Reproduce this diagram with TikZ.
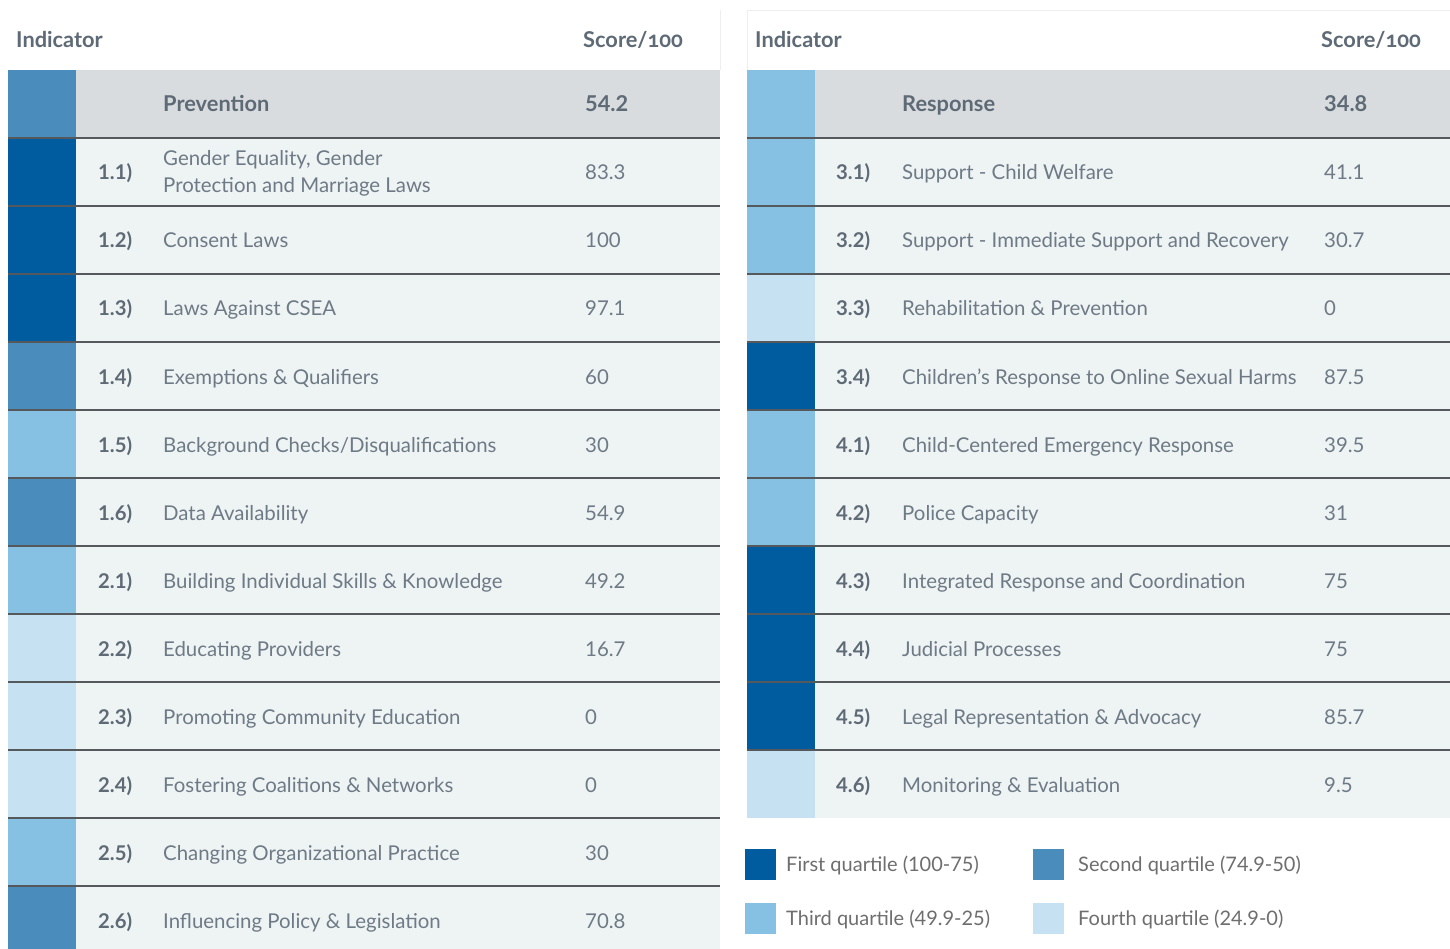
\documentclass[tikz,border=0pt]{standalone}
\usepackage{fontspec}
\setmainfont{Lato}
\newfontfamily\oldnum[Numbers=OldStyle]{Lato}
\definecolor{qa}{HTML}{005C9E}
\definecolor{qb}{HTML}{4A8CBB}
\definecolor{qc}{HTML}{86C1E3}
\definecolor{qd}{HTML}{C5E1F2}
\definecolor{rowbg}{HTML}{EEF3F4}
\definecolor{headbg}{HTML}{D9DCDF}
\definecolor{txt}{HTML}{6E7A85}
\definecolor{txtb}{HTML}{5E6A75}
\definecolor{rulec}{HTML}{55595C}
\definecolor{faint}{HTML}{EEEEEE}
\definecolor{legtxt}{HTML}{6E6E6E}
\tikzset{
  cell/.style={minimum width=68pt, minimum height=68pt, inner sep=0pt, outer sep=0pt},
  lsq/.style={minimum width=31pt, minimum height=31pt, inner sep=0pt},
  hdr/.style={anchor=base west, inner sep=0pt, text=txtb, font=\fontsize{21.8}{26}\selectfont\bfseries},
  num/.style={anchor=base west, inner sep=0pt, text=txtb, font=\fontsize{20.3}{24}\selectfont\bfseries},
  lbl/.style={anchor=base west, inner sep=0pt, text=txt, align=left, font=\fontsize{20.4}{27}\selectfont},
  legl/.style={anchor=base west, inner sep=0pt, text=legtxt, font=\fontsize{20}{24}\selectfont},
  rowrule/.style={draw=rulec, line width=1.6pt},
}
\begin{document}
\begin{tikzpicture}[x=1pt,y=-1pt]
\useasboundingbox[fill=white] (0,0) rectangle (1450,949);
% faint frames
\draw[faint, line width=0.8pt] (720.5,10) -- (720.5,70);
\draw[faint, line width=0.8pt] (747.5,70) -- (747.5,10) -- (1450,10);
% ---------- left table ----------
\fill[rowbg] (76,138) rectangle (720,949);
\fill[headbg] (76,70) rectangle (720,138);
\node[hdr] (L-hind) at (16,48) {Indicator};
\node[hdr] (L-hsc) at (583,48) {Score/{\oldnum 100}};
\node[cell, fill=qb] (L0-c) at (42,104) {};
\node[hdr] (L0-t) at (163,112) {Prevention};
\node[hdr] (L0-s) at (585,112) {54.2};
\foreach \i/\c/\n/\t/\s in {
  1/qa/{1.1)}/{Gender Equality, Gender\\Protection and Marriage Laws}/{83.3},
  2/qa/{1.2)}/{Consent Laws}/{100},
  3/qa/{1.3)}/{Laws Against CSEA}/{97.1},
  4/qb/{1.4)}/{Exemptions \& Qualifiers}/{60},
  5/qc/{1.5)}/{Background Checks/Disqualifications}/{30},
  6/qb/{1.6)}/{Data Availability}/{54.9},
  7/qc/{2.1)}/{Building Individual Skills \& Knowledge}/{49.2},
  8/qd/{2.2)}/{Educating Providers}/{16.7},
  9/qd/{2.3)}/{Promoting Community Education}/{0},
  10/qd/{2.4)}/{Fostering Coalitions \& Networks}/{0},
  11/qc/{2.5)}/{Changing Organizational Practice}/{30},
  12/qb/{2.6)}/{Influencing Policy \& Legislation}/{70.8}}{
  \pgfmathsetmacro{\yc}{104+68*\i}
  \node[cell, fill=\c] (L\i-c) at (42,\yc) {};
  \node[num] (L\i-n) at (98,\yc+8) {\n};
  \ifnum\i=1
    \node[lbl] (L\i-t) at (163,\yc+21) {\t};
  \else
    \node[lbl] (L\i-t) at (163,\yc+8) {\t};
  \fi
  \node[lbl] (L\i-s) at (585,\yc+8) {\s};
  \draw[rowrule] (8,\yc-34) -- (720,\yc-34);
}
% ---------- right table ----------
\fill[rowbg] (815,138) rectangle (1450,818);
\fill[headbg] (815,70) rectangle (1450,138);
\node[hdr] (R-hind) at (755,48) {Indicator};
\node[hdr] (R-hsc) at (1321,48) {Score/{\oldnum 100}};
\node[cell, fill=qc] (R0-c) at (781,104) {};
\node[hdr] (R0-t) at (902,112) {Response};
\node[hdr] (R0-s) at (1324,112) {34.8};
\foreach \i/\c/\n/\t/\s in {
  1/qc/{3.1)}/{Support - Child Welfare}/{41.1},
  2/qc/{3.2)}/{Support - Immediate Support and Recovery}/{30.7},
  3/qd/{3.3)}/{Rehabilitation \& Prevention}/{0},
  4/qa/{3.4)}/{Children's Response to Online Sexual Harms}/{87.5},
  5/qc/{4.1)}/{Child-Centered Emergency Response}/{39.5},
  6/qc/{4.2)}/{Police Capacity}/{31},
  7/qa/{4.3)}/{Integrated Response and Coordination}/{75},
  8/qa/{4.4)}/{Judicial Processes}/{75},
  9/qa/{4.5)}/{Legal Representation \& Advocacy}/{85.7},
  10/qd/{4.6)}/{Monitoring \& Evaluation}/{9.5}}{
  \pgfmathsetmacro{\yc}{104+68*\i}
  \node[cell, fill=\c] (R\i-c) at (781,\yc) {};
  \node[num] (R\i-n) at (836,\yc+8) {\n};
  \node[lbl] (R\i-t) at (902,\yc+8) {\t};
  \node[lbl] (R\i-s) at (1324,\yc+8) {\s};
  \draw[rowrule] (747,\yc-34) -- (1450,\yc-34);
}
% ---------- legend ----------
\node[lsq, fill=qa] (K1) at (760.5,864) {};
\node[legl] (K1-t) at (786,871) {First quartile (100-75)};
\node[lsq, fill=qb] (K2) at (1048.5,864) {};
\node[legl] (K2-t) at (1078,871) {Second quartile (74.9-50)};
\node[lsq, fill=qc] (K3) at (760.5,918) {};
\node[legl] (K3-t) at (786,925) {Third quartile (49.9-25)};
\node[lsq, fill=qd] (K4) at (1048.5,918) {};
\node[legl] (K4-t) at (1078,925) {Fourth quartile (24.9-0)};
\end{tikzpicture}
\end{document}
